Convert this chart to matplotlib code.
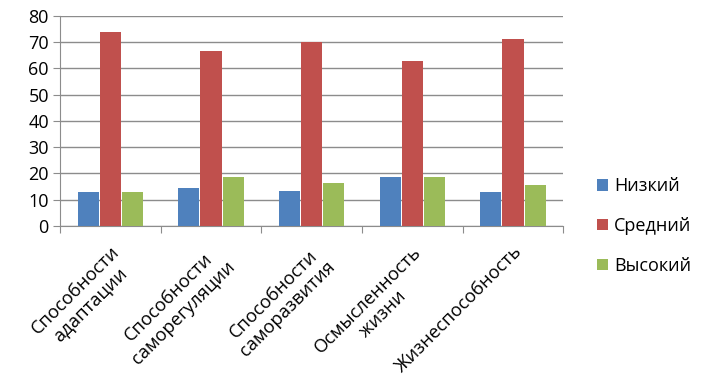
import numpy as np
import matplotlib.pyplot as plt

plt.rcParams['font.family'] = ['Open Sans', 'DejaVu Sans']

categories = ["Способности\nадаптации", "Способности\nсаморегуляции",
              "Способности\nсаморазвития", "Осмысленность\nжизни",
              "Жизнеспособность"]
low = [13, 14.5, 13.3, 18.6, 13]
mid = [74, 66.5, 70, 62.7, 71.1]
high = [13, 18.6, 16.4, 18.6, 15.6]
series_names = ["Низкий", "Средний", "Высокий"]
colors = ["#4F81BD", "#C0504D", "#9BBB59"]

fig = plt.figure(figsize=(7.14, 3.81), dpi=100)
ax = fig.add_axes([0.084, 0.407, 0.705, 0.551])

x = np.arange(len(categories))
w = 0.21
for i, (vals, name, c) in enumerate(zip([low, mid, high], series_names, colors)):
    ax.bar(x + (i - 1) * (w + 0.01), vals, width=w, color=c, label=name, zorder=3)

ax.set_xlim(-0.5, len(categories) - 0.5)
ax.set_ylim(0, 80)
ax.set_yticks(range(0, 81, 10))
ax.grid(axis='y', color='#8c8c8c', linewidth=1, zorder=0)
ax.tick_params(axis='y', labelsize=13, length=5, color='#8c8c8c', pad=3)

# ticks between categories, labels at centers
ax.set_xticks(np.arange(-0.5, len(categories), 1))
ax.set_xticklabels([])
ax.tick_params(axis='x', length=5, color='#8c8c8c')
ax.set_xticks(x, minor=True)
ax.set_xticklabels(categories, minor=True, rotation=45, ha='right',
                   rotation_mode='anchor', fontsize=13.2, multialignment='center',
                   linespacing=1.2)
ax.tick_params(axis='x', which='minor', length=0, pad=12)

for s in ['top', 'right']:
    ax.spines[s].set_visible(False)
for s in ['left', 'bottom']:
    ax.spines[s].set_color('#8c8c8c')

ax.legend(loc='center left', bbox_to_anchor=(1.035, 0.0), frameon=False,
          fontsize=13, handlelength=0.6, handleheight=0.6,
          labelspacing=1.2, handletextpad=0.35)

fig.savefig("out.png", dpi=100)
